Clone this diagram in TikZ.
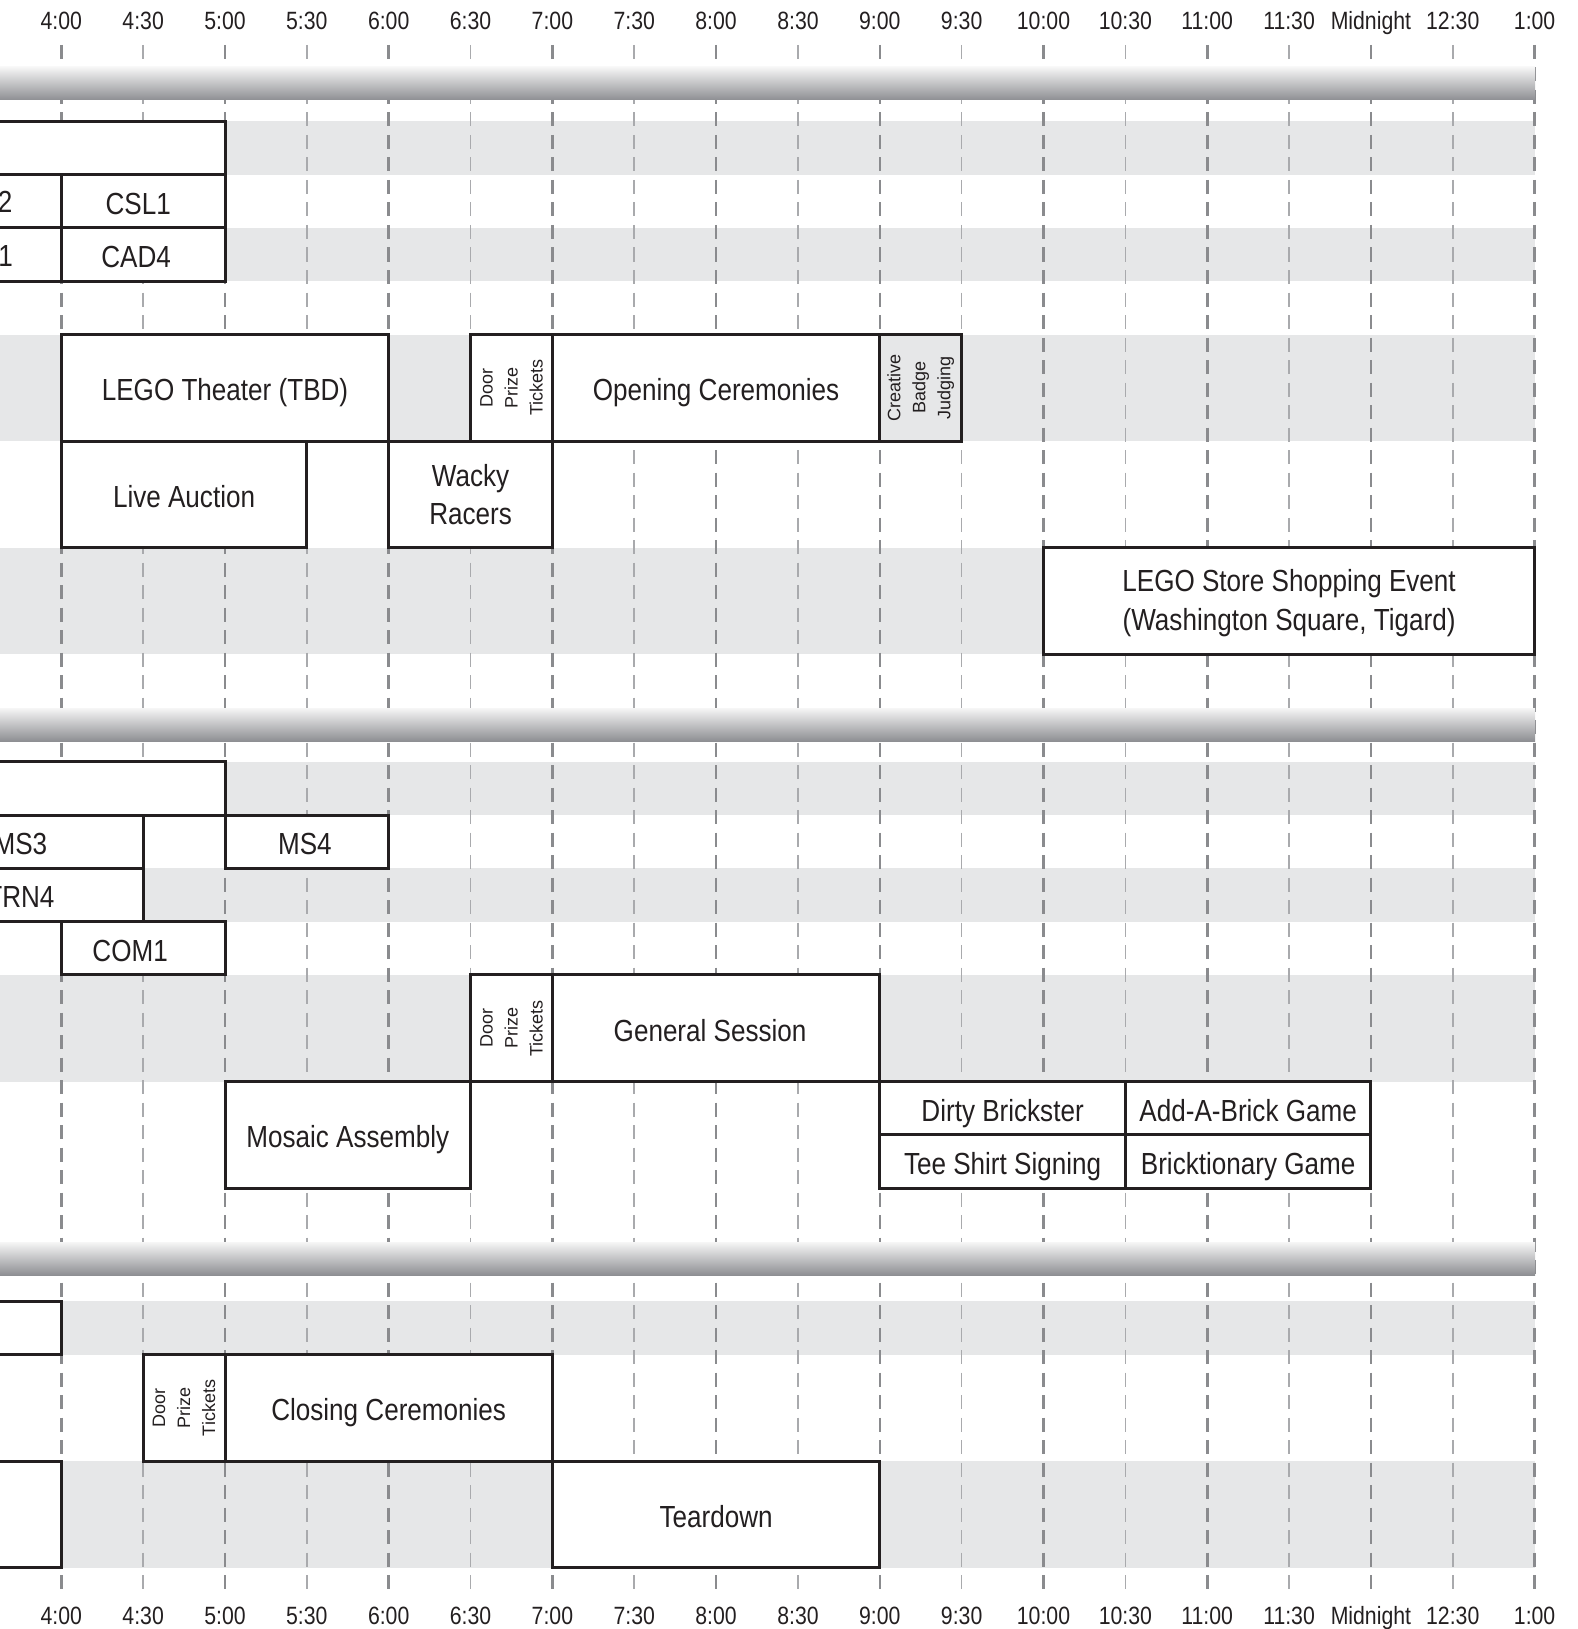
\documentclass[tikz,border=0pt]{standalone}
\usepackage{fontspec}
\setmainfont[FakeStretch=0.855]{Liberation Sans}
\newfontfamily\plainsans{Liberation Sans}
\newfontfamily\timefont[FakeStretch=0.85]{Liberation Sans}
\definecolor{ink}{HTML}{231F20}
\definecolor{band}{HTML}{E6E7E8}
\definecolor{hourc}{HTML}{8A8B8E}
\definecolor{halfc}{HTML}{A9AAAD}
\definecolor{bartop}{HTML}{F6F6F6}
\definecolor{barbot}{HTML}{8E8F93}
% #1 extra options, #2 name, #3 start slot, #4 end slot, #5 top y, #6 bottom y, #7 text
\newcommand\schedbox[7][]{\node[evbox,#1,minimum width={(#4-(#3))*81.85pt},minimum height={(#6-(#5))*1pt}] (#2) at ({61.3+(#3+#4)*40.925},{(#5+#6)/2}) {#7};}
\begin{document}
\begin{tikzpicture}[x=1pt,y=-1pt,
  evbox/.style={draw=ink,line width=3pt,fill=white,inner sep=0pt,align=center,text=ink,
    font=\fontsize{30.5}{38.5}\selectfont,text height=26pt,text depth=0pt},
  multi/.style={text height={},text depth={}},
  vtext/.style={rotate=90,align=center,inner sep=0pt,text=ink,
    font=\plainsans\fontsize{18}{25}\selectfont},
  celltext/.style={inner sep=0pt,text=ink,font=\fontsize{30.5}{38.5}\selectfont,text height=22pt,text depth=0pt},
  timelbl/.style={inner sep=0pt,text=ink,font=\timefont\fontsize{25}{30}\selectfont,text height=18pt,text depth=0pt},
  hourline/.style={draw=hourc,line width=2.6pt,dash pattern=on 14pt off 8.5pt},
  halfline/.style={draw=halfc,line width=1.6pt,dash pattern=on 14pt off 8.5pt},
  bar/.style={top color=bartop,bottom color=barbot}]
\useasboundingbox (0,0) rectangle (1578,1629);
\clip (0,0) rectangle (1578,1629);
% gray row bands
\foreach \a/\b in {121.3/174.6,227.9/281.2,334.5/441.1,547.7/654.3,
                   761.7/815.0,868.3/921.6,974.9/1081.5,
                   1301.3/1354.6,1461.2/1567.8}
  \fill[band] (0,\a) rectangle (1534.6,\b);
% grid lines
\foreach \k in {0,2,...,18} \draw[hourline] ({61.3+\k*81.85},45) -- ({61.3+\k*81.85},1592);
\foreach \k in {1,3,...,17} \draw[halfline] ({61.3+\k*81.85},45) -- ({61.3+\k*81.85},1592);
% section bars
\shade[bar] (0,67) rectangle (1535,100);
\shade[bar] (0,708) rectangle (1535,741);
\shade[bar] (0,1242) rectangle (1535,1275);
% time labels
\foreach \lab [count=\i from 0] in {4:00,4:30,5:00,5:30,6:00,6:30,7:00,7:30,8:00,8:30,9:00,9:30,10:00,10:30,11:00,11:30,Midnight,12:30,1:00}{
  \node[timelbl] (top\i) at ({61.3+\i*81.85},20.8) {\lab};
  \node[timelbl] (bot\i) at ({61.3+\i*81.85},1615) {\lab};
}
% ---- section 1
\schedbox{a1}{-4}{2}{121.3}{174.6}{}
\schedbox{a2}{-2}{0}{174.6}{227.9}{}
\node[celltext,anchor=east] (a2t) at (12.5,202) {2};
\schedbox{csl1}{0}{2}{174.6}{227.9}{\hspace*{-10pt}CSL1}
\schedbox{a3}{-2}{0}{227.9}{281.2}{}
\node[celltext,anchor=east] (a3t) at (13,255.5) {1};
\schedbox{cad4}{0}{2}{227.9}{281.2}{\hspace*{-14pt}CAD4}
\schedbox{theater}{0}{4}{334.5}{441.1}{LEGO Theater (TBD)}
\schedbox{door1}{5}{6}{334.5}{441.1}{}
\node[vtext] (door1t) at (door1.center) {Door\\Prize\\Tickets};
\schedbox{opening}{6}{10}{334.5}{441.1}{Opening Ceremonies}
\schedbox[fill=none]{creative}{10}{11}{334.5}{441.1}{}
\node[vtext] (creativet) at (creative.center) {Creative\\Badge\\Judging};
\schedbox{auction}{0}{3}{441.1}{547.7}{Live Auction}
\schedbox[multi]{wacky}{4}{6}{441.1}{547.7}{Wacky\\Racers}
\schedbox[multi]{store}{12}{18}{547.7}{654.3}{\rule{0pt}{26pt}LEGO Store Shopping Event\\(Washington Square, Tigard)}
% ---- section 2
\schedbox{b1}{-4}{2}{761.7}{815.0}{}
\schedbox{ms3}{-2}{1}{815.0}{868.3}{MS3}
\schedbox{ms4}{2}{4}{815.0}{868.3}{\hspace*{-4pt}MS4}
\schedbox{trn4}{-2}{1}{868.3}{921.6}{TRN4}
\schedbox{com1}{0}{2}{921.6}{974.9}{\hspace*{-26pt}COM1}
\schedbox{door2}{5}{6}{974.9}{1081.5}{}
\node[vtext] (door2t) at (door2.center) {Door\\Prize\\Tickets};
\schedbox{general}{6}{10}{974.9}{1081.5}{\hspace*{-12pt}General Session}
\schedbox{mosaic}{2}{5}{1081.5}{1188.1}{Mosaic Assembly}
\schedbox{dirty}{10}{13}{1081.5}{1134.8}{Dirty Brickster}
\schedbox{tee}{10}{13}{1134.8}{1188.1}{Tee Shirt Signing}
\schedbox{addbrick}{13}{16}{1081.5}{1134.8}{Add-A-Brick Game}
\schedbox{bricktionary}{13}{16}{1134.8}{1188.1}{Bricktionary Game}
% ---- section 3
\schedbox{c1}{-4}{0}{1301.3}{1354.6}{}
\schedbox{door3}{1}{2}{1354.6}{1461.2}{}
\node[vtext] (door3t) at (door3.center) {Door\\Prize\\Tickets};
\schedbox{closing}{2}{6}{1354.6}{1461.2}{Closing Ceremonies}
\schedbox{c2}{-4}{0}{1461.2}{1567.8}{}
\schedbox{teardown}{6}{10}{1461.2}{1567.8}{Teardown}
\end{tikzpicture}
\end{document}
